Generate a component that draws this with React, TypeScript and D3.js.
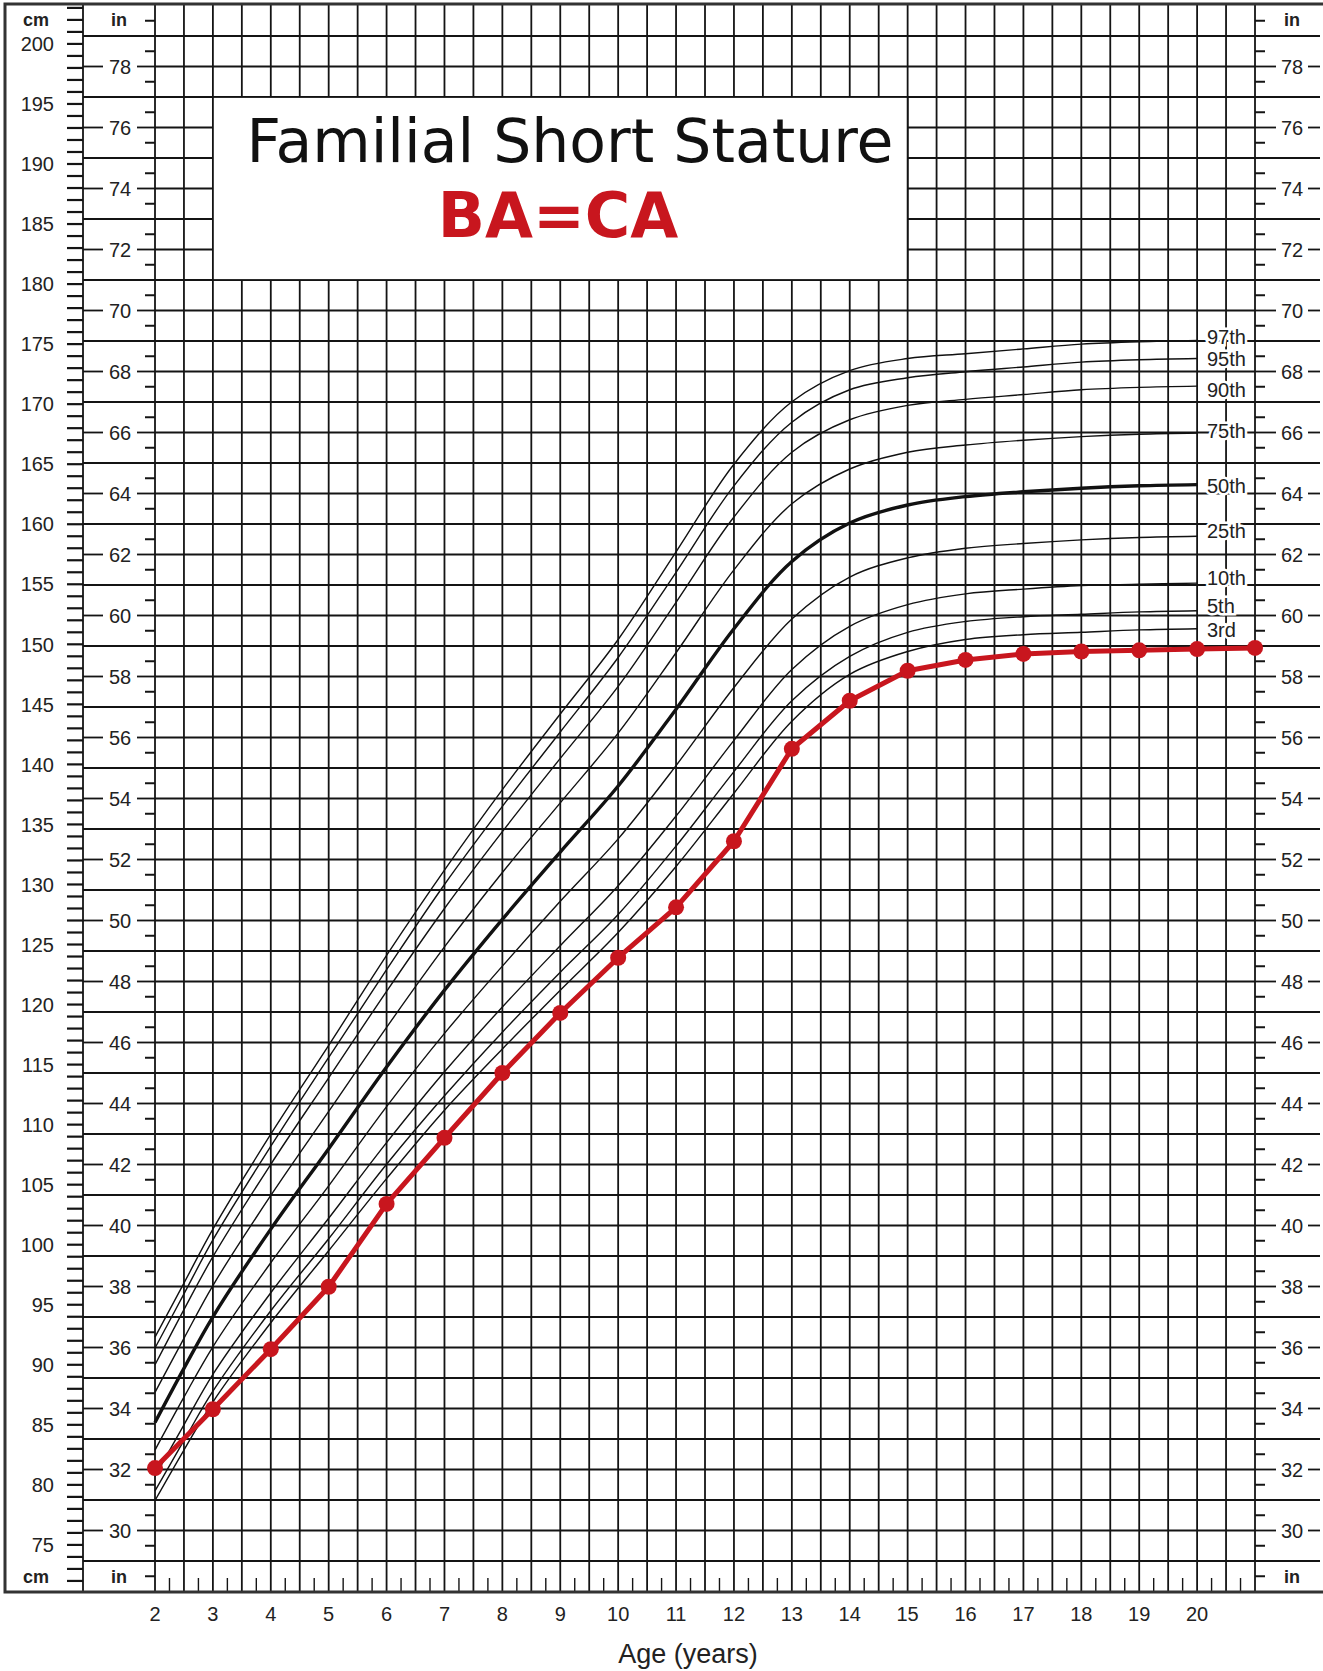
import React from 'react';
import * as d3 from 'd3';

// ---------- data ----------
const ages = [2, 2.5, 3, 4, 5, 6, 7, 8, 9, 10, 11, 12, 13, 14, 15, 16, 17, 18, 19, 20];
const p3 = [78.7, 82.9, 86.9, 93.5, 99.5, 105.5, 111.2, 116.3, 121.2, 126.0, 131.5, 137.6, 143.6, 147.5, 149.4, 150.4, 150.8, 151.0, 151.2, 151.3];
const p5 = [79.5, 83.7, 87.8, 94.5, 100.5, 106.7, 112.4, 117.7, 122.7, 127.5, 133.2, 139.4, 145.3, 149.0, 151.0, 151.9, 152.3, 152.5, 152.7, 152.8];
const p10 = [80.7, 85.0, 89.2, 96.0, 102.2, 108.5, 114.4, 119.8, 124.9, 129.9, 135.7, 142.0, 147.9, 151.5, 153.3, 154.2, 154.6, 154.9, 155.0, 155.1];
const p25 = [82.9, 87.3, 91.5, 98.5, 104.9, 111.5, 117.6, 123.2, 128.6, 133.8, 139.9, 146.4, 152.1, 155.6, 157.2, 158.0, 158.4, 158.7, 158.9, 159.0];
const p50 = [85.2, 89.7, 94.0, 101.3, 108.0, 114.8, 121.2, 127.1, 132.7, 138.2, 144.6, 151.3, 156.9, 160.1, 161.6, 162.3, 162.7, 163.0, 163.2, 163.3];
const p75 = [87.7, 92.2, 96.6, 104.1, 111.1, 118.1, 124.8, 131.0, 136.8, 142.6, 149.3, 156.2, 161.7, 164.6, 166.0, 166.6, 167.0, 167.3, 167.5, 167.6];
const p90 = [90.0, 94.6, 99.0, 106.7, 113.9, 121.1, 128.0, 134.4, 140.5, 146.5, 153.5, 160.6, 166.0, 168.7, 169.9, 170.4, 170.8, 171.2, 171.4, 171.5];
const p95 = [91.4, 95.9, 100.4, 108.2, 115.6, 122.9, 130.0, 136.5, 142.7, 148.9, 156.0, 163.2, 168.5, 171.2, 172.2, 172.7, 173.1, 173.5, 173.7, 173.8];
const p97 = [92.3, 96.8, 101.3, 109.2, 116.6, 124.1, 131.2, 137.9, 144.2, 150.4, 157.7, 165.0, 170.2, 172.8, 173.8, 174.2, 174.6, 175.0, 175.2, 175.3];

const percentileNames = ['97th', '95th', '90th', '75th', '50th', '25th', '10th', '5th', '3rd'];
const percentileSeries = [p97, p95, p90, p75, p50, p25, p10, p5, p3];

const patientAges = [2, 3, 4, 5, 6, 7, 8, 9, 10, 11, 12, 13, 14, 15, 16, 17, 18, 19, 20, 21];
const patientHeights = [81.4, 86.3, 91.3, 96.5, 103.4, 108.9, 114.3, 119.3, 123.9, 128.1, 133.6, 141.3, 145.3, 147.8, 148.7, 149.2, 149.4, 149.5, 149.6, 149.7];

const ageLabels = [2, 3, 4, 5, 6, 7, 8, 9, 10, 11, 12, 13, 14, 15, 16, 17, 18, 19, 20];
const cmLabels = d3.range(75, 201, 5);
const inchLabels = d3.range(30, 79, 2);

const titleText = 'Familial Short Stature';
const subtitleText = 'BA=CA';
const xAxisTitle = 'Age (years)';

// ---------- layout ----------
const W = 1323;
const H = 1671;
const TOP = 4;
const BOTTOM = 1592;
const LEFT = 5;
const CM_COL_R = 83;
const PLOT_L = 155;
const PLOT_R = 1255;
const RIGHT_END = 1320;

const GRID = '#141414';
const GW = 1.8;
const RED = '#c8161e';
const NUM_FONT = '"Liberation Sans", Arial, Helvetica, sans-serif';
const TITLE_FONT = '"DejaVu Sans", Verdana, sans-serif';

const x = d3.scaleLinear().domain([2, 21]).range([PLOT_L, PLOT_R]);
const y = d3.scaleLinear().domain([29 * 2.54, 79 * 2.54]).range([1561, 36]);
const yin = (v: number) => y(v * 2.54);

const labelOffsets = [-4, 0, 4, -2, 1, -5, -5, -5, 1];

export default function App() {
  const verticals = d3.range(2, 21.001, 0.5);
  const quarterTicks = d3.range(2.25, 21, 0.5);
  const inches = d3.range(29, 80, 1);
  const halfInches = d3.range(28.5, 80, 1);
  const cmTicks = d3.range(71, 204, 1).filter((c) => y(c) > TOP + 2 && y(c) < BOTTOM - 2);

  const curve = d3
    .line<number>()
    .x((_, i) => x(ages[i]))
    .y((d) => y(d))
    .curve(d3.curveCatmullRom.alpha(0.5));

  const redLine = d3
    .line<number>()
    .x((_, i) => x(patientAges[i]))
    .y((d) => y(d));

  return (
    <svg
      width={W}
      height={H}
      viewBox={`0 0 ${W} ${H}`}
      style={{ position: 'absolute', left: 0, top: 0, background: '#fff' }}
    >
      <rect x={0} y={0} width={W} height={H} fill="#fff" />

      {/* vertical grid */}
      {verticals.map((a) => (
        <line key={'v' + a} x1={x(a)} x2={x(a)} y1={TOP} y2={BOTTOM} stroke={GRID} strokeWidth={GW} />
      ))}
      <line x1={CM_COL_R} x2={CM_COL_R} y1={TOP} y2={BOTTOM} stroke={GRID} strokeWidth={GW} />

      {/* horizontal inch grid */}
      {inches.map((i) => {
        const yy = yin(i);
        const odd = i % 2 === 1;
        return (
          <g key={'h' + i}>
            <line x1={odd ? CM_COL_R : PLOT_L} x2={odd ? RIGHT_END : PLOT_R} y1={yy} y2={yy} stroke={GRID} strokeWidth={GW} />
            {!odd && (
              <>
                <line x1={CM_COL_R} x2={103} y1={yy} y2={yy} stroke={GRID} strokeWidth={GW} />
                <line x1={137} x2={PLOT_L} y1={yy} y2={yy} stroke={GRID} strokeWidth={GW} />
                <line x1={PLOT_R} x2={1276} y1={yy} y2={yy} stroke={GRID} strokeWidth={GW} />
                <line x1={1308} x2={RIGHT_END} y1={yy} y2={yy} stroke={GRID} strokeWidth={GW} />
              </>
            )}
          </g>
        );
      })}

      {/* half-inch ticks */}
      {halfInches.map((i) => (
        <g key={'hi' + i}>
          <line x1={145} x2={PLOT_L} y1={yin(i)} y2={yin(i)} stroke={GRID} strokeWidth={2} />
          <line x1={PLOT_R} x2={1265} y1={yin(i)} y2={yin(i)} stroke={GRID} strokeWidth={2} />
        </g>
      ))}

      {/* cm ticks */}
      {cmTicks.map((c) => (
        <line key={'cm' + c} x1={67} x2={CM_COL_R} y1={y(c)} y2={y(c)} stroke={GRID} strokeWidth={2.2} />
      ))}

      {/* quarter-year ticks at bottom */}
      {quarterTicks.map((a) => (
        <line key={'q' + a} x1={x(a)} x2={x(a)} y1={1578} y2={BOTTOM} stroke={GRID} strokeWidth={1.4} />
      ))}

      {/* border */}
      <path d={`M${W},${TOP} H${LEFT} V${BOTTOM} H${W}`} fill="none" stroke="#333" strokeWidth={3} />

      {/* cm labels */}
      {cmLabels.map((c) => (
        <text key={'cl' + c} x={54} y={y(c)} dy="0.36em" textAnchor="end" fontFamily={NUM_FONT} fontSize={20} fill="#222">
          {c}
        </text>
      ))}
      {/* inch labels */}
      {inchLabels.map((i) => (
        <g key={'il' + i}>
          <text x={120} y={yin(i)} dy="0.36em" textAnchor="middle" fontFamily={NUM_FONT} fontSize={20} fill="#222">
            {i}
          </text>
          <text x={1292} y={yin(i)} dy="0.36em" textAnchor="middle" fontFamily={NUM_FONT} fontSize={20} fill="#222">
            {i}
          </text>
        </g>
      ))}
      {/* unit labels */}
      {[20, 1577].map((yy) => (
        <g key={'u' + yy}>
          <text x={36} y={yy} dy="0.36em" textAnchor="middle" fontFamily={NUM_FONT} fontWeight="bold" fontSize={18} fill="#222">cm</text>
          <text x={119} y={yy} dy="0.36em" textAnchor="middle" fontFamily={NUM_FONT} fontWeight="bold" fontSize={18} fill="#222">in</text>
          <text x={1292} y={yy} dy="0.36em" textAnchor="middle" fontFamily={NUM_FONT} fontWeight="bold" fontSize={18} fill="#222">in</text>
        </g>
      ))}

      {/* age labels */}
      {ageLabels.map((a) => (
        <text key={'a' + a} x={x(a)} y={1621} textAnchor="middle" fontFamily={NUM_FONT} fontSize={20} fill="#222">
          {a}
        </text>
      ))}
      <text x={688} y={1663} textAnchor="middle" fontFamily={NUM_FONT} fontSize={27} fill="#222">
        {xAxisTitle}
      </text>

      {/* title box */}
      <rect x={x(3)} y={yin(77)} width={x(15) - x(3)} height={yin(71) - yin(77)} fill="#fff" stroke={GRID} strokeWidth={GW} />
      <text x={570} y={162} textAnchor="middle" fontFamily={TITLE_FONT} fontSize={60} fill="#111">
        {titleText}
      </text>
      <text x={558} y={237} textAnchor="middle" fontFamily={TITLE_FONT} fontWeight="bold" fontSize={62} fill={RED}>
        {subtitleText}
      </text>

      {/* percentile curves */}
      {percentileSeries.map((s, k) => (
        <path
          key={'p' + k}
          d={curve(s) || ''}
          fill="none"
          stroke="#111"
          strokeWidth={percentileNames[k] === '50th' ? 3.4 : 1.4}
        />
      ))}
      {/* percentile labels */}
      {percentileSeries.map((s, k) => (
        <text
          key={'pl' + k}
          x={1207}
          y={y(s[s.length - 1]) + labelOffsets[k]}
          dy="0.36em"
          fontFamily={NUM_FONT}
          fontSize={20}
          fill="#222"
          stroke="#fff"
          strokeWidth={5}
          paintOrder="stroke"
        >
          {percentileNames[k]}
        </text>
      ))}

      {/* patient */}
      <path d={redLine(patientHeights) || ''} fill="none" stroke={RED} strokeWidth={5} strokeLinejoin="round" />
      {patientHeights.map((h, i) => (
        <circle key={'r' + i} cx={x(patientAges[i])} cy={y(h)} r={8} fill={RED} />
      ))}
    </svg>
  );
}
